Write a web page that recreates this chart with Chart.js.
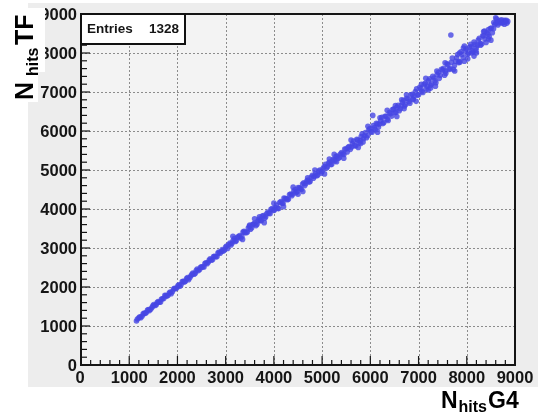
<!DOCTYPE html>
<html><head><meta charset="utf-8">
<style>html,body{margin:0;padding:0;background:#fff;}canvas{display:block;}</style>
<script src="https://cdn.jsdelivr.net/npm/chart.js@4.4.0/dist/chart.umd.min.js"></script>
</head><body>
<canvas id="c" width="543" height="417"></canvas>
<script>
const xTickValues = [0,1000,2000,3000,4000,5000,6000,7000,8000,9000];
const yTickValues = [0,1000,2000,3000,4000,5000,6000,7000,8000,9000];
const xTickLabels = ['0','1000','2000','3000','4000','5000','6000','7000','8000','9000'];
const yTickLabels = ['0','1000','2000','3000','4000','5000','6000','7000','8000','9000'];
const entriesLabel = 'Entries';
const entriesValue = '1328';

const xValues = [
1150,1200,1240,1290,1330,1380,1420,1470,1510,1560,1600,1650,1690,1740,1780,1830,1870,1920,1960,2010,2050,2100,2140,2190,2230,2280,2320,2370,2410,2460,2500,2550,2590,2640,2680,2730,2770,2820,2860,2910,2950,3000,
3040,3090,3130,3180,3220,3270,3310,3360,3400,3450,3490,3540,3580,3630,3670,3720,3760,3810,3850,3900,3940,3990,4030,4080,4120,4170,4210,4260,4300,4350,4390,4440,4480,4530,4570,4620,4660,4710,4750,4800,4840,4890,4930,4980,5020,5070,5110,5160,5200,5250,5290,5340,5380,5430,5470,
5520,5560,5610,5650,5700,5740,5790,5830,5880,5920,5970,6010,6060,6100,6150,6190,6240,6280,6330,6370,6420,6460,6510,6550,6600,6640,6690,6730,6780,6820,6870,6910,6960,7000,7050,7090,7140,7180,7230,7270,7320,7360,7410,7450,7500,
7540,7590,7630,7680,7720,7770,7810,7860,7900,7950,7990,8040,8080,8130,8170,8220,8260,8310,8350,8400,8440,8490,8530,8580,8620,8670,8710,8760,8800,8850,
6520,6700,6880,7060,7200,7380,7560,7700,7840,7930,8020,8100,8190,8280,8370,8450,8560,8640,8720,8780,8830,8600,7670,6050,3500,4100,4700,5300,5800,6200,8100,8200,
1170,1220,1265,1310,1355,1400,1445,1490,1535,1580,1625,1670,1715,1760,1805,1850,1895,1940,1985,2030,2075,2120,2165,2210,2255,2300,2345,2390,2435,2480,2525,2570,2615,2660,2705,2750,2795,2840,2885,2930,2975,3020,
3065,3110,3155,3200,3245,3290,3335,3380,3425,3470,3515,3560,3605,3650,3695,3740,3785,3830,3875,3920,3965,4010,4055,4145,4190,4235,4280,4325,4370,4415,4460,4505,4550,4595,4640,4685,4730,4775,4820,4865,4910,4955,5000,5045,5090,5135,5180,5225,5270,5315,5360,5405,5450,5495,
5540,5585,5630,5675,5720,5765,5810,5855,5900,5945,5990,6035,6080,6125,6170,6215,6260,6305,6350,6395,6440,6485,6530,6575,6620,6665,6710,6755,6800,6845,6890,6935,6980,7025,7070,7115,7160,7205,7250,7295,7340,7385,7430,7475,
7520,7565,7610,7655,7745,7790,7835,7880,7925,7970,8015,8060,8105,8150,8195,8240,8285,8330,8375,8420,8465,8510,8555,8600,8645,8690,8735,8780,8820,
3150,3350,3600,3800,4000,4200,4400,4600,4850,5050,5250,5450,5600,5750,5950,6150,6350,6550,6750,6950,7150,7350,7550,7750,7950,8150,8350,8500,3700,4500,5150,5850,6650,7250,7850,8450
];
const yValues = [
1130,1210,1210,1310,1320,1410,1395,1475,1550,1545,1625,1615,1700,1785,1760,1845,1830,1950,1955,2030,2020,2140,2125,2215,2185,2290,2355,2350,2460,2450,2515,2515,2620,2635,2725,2705,2790,2780,2895,2910,2920,3025,
2990,3130,3120,3240,3185,3285,3250,3410,3400,3410,3560,3520,3615,3575,3690,3705,3820,3765,3875,3895,3995,3960,4040,4015,4165,4150,4280,4265,4250,4385,4380,4500,4440,4545,4500,4670,4655,4740,4705,4865,4840,4855,4970,4920,5040,5145,5085,5205,5145,5260,5350,5300,5410,5415,5540,
5460,5600,5590,5740,5620,5765,5750,5930,5880,5830,6030,5980,6140,6030,6180,6180,6350,6220,6380,6270,6440,6550,6470,6610,6520,6650,6790,6680,6820,6710,6940,6890,7080,6930,7080,6990,7220,7150,7340,7210,7360,7240,7500,7430,7560,
7430,7720,7580,7760,7580,7790,7960,7770,7960,7790,8100,8000,8220,8030,8220,8200,8380,8230,8440,8270,8480,8630,8520,8730,8870,8770,8790,8790,8810,8810,
6650,6570,6820,7200,7050,7540,7540,7870,7780,8130,7850,8160,8060,8240,8560,8360,8780,8800,8850,8840,8760,8900,8460,6400,3590,4010,4800,5210,5680,6340,8000,8000,
1180,1235,1250,1330,1345,1425,1430,1515,1525,1600,1610,1690,1705,1780,1790,1870,1880,1965,1975,2055,2060,2145,2150,2240,2235,2325,2330,2420,2420,2505,2510,2600,2595,2690,2685,2780,2775,2870,2865,2960,2950,3050,
3090,3080,3190,3165,3280,3320,3300,3430,3390,3510,3480,3600,3640,3610,3740,3700,3830,3800,3920,3880,4010,3975,4100,4190,4150,4270,4240,4370,4340,4460,4420,4550,4520,4640,4600,4720,4690,4820,4790,4910,4870,5000,4960,5090,5050,5180,5140,5270,5230,5360,5320,5450,5400,5540,
5580,5530,5680,5620,5790,5700,5860,5800,5960,5880,6060,5970,6080,6200,6100,6270,6190,6380,6300,6470,6380,6560,6480,6660,6570,6740,6640,6840,6750,6930,6810,7010,6920,7120,7010,7200,7080,7290,7170,7400,7290,7440,7350,7580,
7610,7480,7700,7600,7680,7880,7750,8030,7880,8060,7960,8150,8060,8280,8130,8330,8200,8440,8360,8520,8420,8640,8620,8760,8720,8830,8760,8740,8840,
3300,3220,3750,3650,4150,4060,4560,4450,5000,4900,5400,5300,5770,5580,6120,5970,6530,6370,6930,6760,7350,7150,7750,7540,8180,7920,8550,8330,3800,4380,5280,5720,6800,7100,8000,8600
];

function line(ctx,x1,y1,x2,y2){ctx.beginPath();ctx.moveTo(x1,y1);ctx.lineTo(x2,y2);ctx.stroke();}

const rootStyle = {
  id:'rootStyle',
  beforeDraw(chart){
    const {ctx, chartArea:a, scales:{x,y}} = chart;
    ctx.save();
    ctx.fillStyle='#ffffff'; ctx.fillRect(0,0,chart.width,chart.height);
    ctx.fillStyle='#ededed'; ctx.fillRect(28,3,510,384);
    ctx.fillStyle='#f3f3f3'; ctx.fillRect(a.left,a.top,a.right-a.left,a.bottom-a.top);
    ctx.strokeStyle='#8c8c8c'; ctx.lineWidth=1; ctx.setLineDash([2,2]);
    xTickValues.forEach(v=>{ if(v<=x.min||v>=x.max) return; const p=Math.round(x.getPixelForValue(v))+0.5; line(ctx,p,a.top,p,a.bottom); });
    yTickValues.forEach(v=>{ if(v<=y.min||v>=y.max) return; const p=Math.round(y.getPixelForValue(v))+0.5; line(ctx,a.left,p,a.right,p); });
    ctx.restore();
  },
  afterDatasetsDraw(chart){
    const {ctx, chartArea:a, scales:{x,y}} = chart;
    ctx.save();
    ctx.strokeStyle='#151515'; ctx.lineWidth=2; ctx.setLineDash([]);
    ctx.strokeRect(a.left,a.top,a.right-a.left,a.bottom-a.top);
    ctx.lineWidth=1.2;
    for(let i=0;i<xTickValues.length-1;i++){
      const v0=xTickValues[i], v1=xTickValues[i+1];
      for(let k=0;k<5;k++){
        const v=v0+(v1-v0)*k/5; const p=x.getPixelForValue(v);
        line(ctx,p,a.bottom,p,a.bottom-(k===0?9:5));
      }
    }
    for(let i=0;i<yTickValues.length-1;i++){
      const v0=yTickValues[i], v1=yTickValues[i+1];
      for(let k=0;k<5;k++){
        const v=v0+(v1-v0)*k/5; const p=y.getPixelForValue(v);
        line(ctx,a.left,p,a.left+(k===0?9:6),p);
      }
    }
    ctx.fillStyle='#151515';
    ctx.font='bold 16.5px "Liberation Sans", Arial, sans-serif';
    ctx.textAlign='center'; ctx.textBaseline='alphabetic';
    xTickValues.forEach((v,i)=>{ ctx.fillText(xTickLabels[i], x.getPixelForValue(v)-(i===0?1:0), 383); });
    ctx.textAlign='right'; ctx.textBaseline='middle';
    yTickValues.forEach((v,i)=>{ ctx.fillText(yTickLabels[i], 77, y.getPixelForValue(v)+1); });
    ctx.fillStyle='#ffffff'; ctx.fillRect(a.left,a.top,104,30);
    ctx.strokeStyle='#111'; ctx.lineWidth=2; ctx.strokeRect(a.left,a.top,104,30);
    ctx.fillStyle='#151515';
    ctx.font='bold 13.5px "Liberation Sans", Arial, sans-serif';
    ctx.textBaseline='middle';
    ctx.textAlign='left'; ctx.fillText(entriesLabel, a.left+6, a.top+15.5);
    ctx.textAlign='right'; ctx.fillText(entriesValue, a.left+98, a.top+15.5);
    ctx.fillStyle='#ffffff'; ctx.fillRect(0,8,45,64); ctx.fillRect(0,72,38,30);
    ctx.fillStyle='#000';
    ctx.save();
    ctx.translate(33,100); ctx.rotate(-Math.PI/2);
    ctx.textAlign='left'; ctx.textBaseline='alphabetic';
    ctx.font='bold 25px "Liberation Sans", Arial, sans-serif';
    ctx.fillText('N',0,0);
    ctx.font='bold 16px "Liberation Sans", Arial, sans-serif';
    ctx.fillText('hits',24,5);
    ctx.font='bold 25px "Liberation Sans", Arial, sans-serif';
    ctx.fillText('TF',55,0);
    ctx.restore();
    ctx.textAlign='left'; ctx.textBaseline='alphabetic';
    ctx.font='bold 23px "Liberation Sans", Arial, sans-serif';
    ctx.fillText('N',441,408);
    ctx.font='bold 16px "Liberation Sans", Arial, sans-serif';
    ctx.fillText('hits',458.5,412);
    ctx.font='bold 23px "Liberation Sans", Arial, sans-serif';
    ctx.fillText('G4',488,408);
    ctx.restore();
  }
};

new Chart(document.getElementById('c'), {
  type:'scatter',
  data:{datasets:[{
    data: xValues.map((v,i)=>({x:v,y:yValues[i]})),
    pointRadius:2.8, pointBackgroundColor:'rgba(70,70,228,0.8)', pointBorderWidth:0, pointHoverRadius:0
  }]},
  options:{
    responsive:false, animation:false, events:[],
    layout:{padding:{left:81,right:28,top:14,bottom:52}},
    plugins:{legend:{display:false}, tooltip:{enabled:false}},
    scales:{
      x:{type:'linear',min:0,max:9000,display:false},
      y:{type:'linear',min:0,max:9000,display:false}
    }
  },
  plugins:[rootStyle]
});
</script>
</body></html>
